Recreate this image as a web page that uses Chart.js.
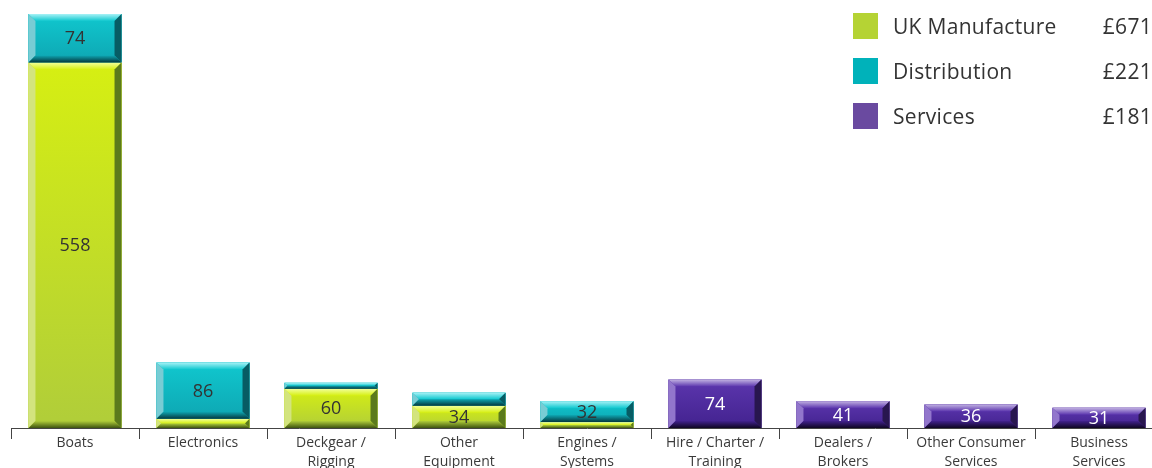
<!DOCTYPE html>
<html>
<head>
<meta charset="utf-8">
<script src="https://cdn.jsdelivr.net/npm/chart.js@4.4.0/dist/chart.umd.min.js"></script>
<style>
  html, body { margin: 0; padding: 0; background: #fff; overflow: hidden; }
  #wrap { position: relative; width: 1152px; height: 468px; overflow: hidden; }
  #chart { position: absolute; left: 0; top: 0; }
  #legend { position: absolute; left: 853px; top: 13px; width: 299px;
            font-family: 'Open Sans', sans-serif; font-size: 21px; letter-spacing: 0.3px; color: #333; }
  #legend .row { position: relative; height: 45px; }
  #legend .sw { position: absolute; left: 0; top: 0; width: 25px; height: 26px; }
  #legend .name { position: absolute; left: 40px; top: 0; line-height: 27px; }
  #legend .val { position: absolute; right: 0; top: 0; line-height: 27px; }
</style>
</head>
<body>
<div id="wrap">
  <canvas id="chart" width="1164" height="468"></canvas>
  <div id="legend"></div>
</div>
<script>
// ===== DATA =====
const categories = [
  ['Boats'], ['Electronics'], ['Deckgear /', 'Rigging'], ['Other', 'Equipment'],
  ['Engines /', 'Systems'], ['Hire / Charter /', 'Training'], ['Dealers /', 'Brokers'],
  ['Other Consumer', 'Services'], ['Business', 'Services']
];
const ukManufacture = [558, 14, 60, 34, 9, null, null, null, null];
const distribution  = [74, 86, 9, 20, 32, null, null, null, null];
const services      = [null, null, null, null, null, 74, 41, 36, 31];

const seriesNames  = ['UK Manufacture', 'Distribution', 'Services'];
const seriesTotals = ['£671', '£221', '£181'];

// ===== COLOURS =====
const legendColors = ['#b5d334', '#00b2ba', '#6a4aa0'];
const bevelColors = [
  { faceTop: '#d6ef12', faceBot: '#b0cd3a', top: '#f2ff9c', left: '#d3e47e', right: '#5b7a1c', bottom: '#3e5410' },
  { faceTop: '#10c8cf', faceBot: '#0ea6b2', top: '#a8f2f6', left: '#78ccd4', right: '#075c64', bottom: '#04363c' },
  { faceTop: '#5c36ae', faceBot: '#42228e', top: '#c2b2e2', left: '#9276cc', right: '#28164f', bottom: '#0e0622' }
];
const labelColors = ['#333', '#333', '#fff'];

// ===== LEGEND =====
const legendEl = document.getElementById('legend');
seriesNames.forEach((name, i) => {
  const row = document.createElement('div');
  row.className = 'row';
  row.innerHTML = `<div class="sw" style="background:${legendColors[i]}"></div>
    <div class="name">${name}</div><div class="val">${seriesTotals[i]}</div>`;
  legendEl.appendChild(row);
});

// ===== BEVELLED BARS =====
function poly(ctx, pts, fill) {
  ctx.beginPath();
  ctx.moveTo(pts[0][0], pts[0][1]);
  for (let k = 1; k < pts.length; k++) ctx.lineTo(pts[k][0], pts[k][1]);
  ctx.closePath();
  ctx.fillStyle = fill;
  ctx.fill();
}

const bevelPlugin = {
  id: 'bevel',
  afterDatasetsDraw(chart) {
    const ctx = chart.ctx;
    ctx.save();
    chart.data.datasets.forEach((ds, di) => {
      const meta = chart.getDatasetMeta(di);
      const c = bevelColors[di];
      meta.data.forEach((bar, i) => {
        const v = ds.data[i];
        if (v == null) return;
        const p = bar.getProps(['x', 'y', 'base', 'width'], true);
        const l = p.x - p.width / 2, r = p.x + p.width / 2;
        const t = Math.min(p.y, p.base), b = Math.max(p.y, p.base);
        const h = b - t;
        if (h <= 0) return;
        const s = Math.min(7, h / 2);

        // face
        const g = ctx.createLinearGradient(0, t, 0, b);
        g.addColorStop(0, c.faceTop);
        g.addColorStop(1, c.faceBot);
        ctx.fillStyle = g;
        ctx.fillRect(l, t, r - l, h);

        // top edge
        const gt = ctx.createLinearGradient(0, t, 0, t + s);
        gt.addColorStop(0, c.top);
        gt.addColorStop(1, c.faceTop);
        poly(ctx, [[l, t], [r, t], [r - s, t + s], [l + s, t + s]], gt);

        // left edge
        poly(ctx, [[l, t], [l + s, t + s], [l + s, b - s], [l, b]], c.left);

        // right edge
        poly(ctx, [[r, t], [r, b], [r - s, b - s], [r - s, t + s]], c.right);

        // bottom edge
        const gb = ctx.createLinearGradient(0, b - s, 0, b);
        gb.addColorStop(0, c.faceBot);
        gb.addColorStop(1, c.bottom);
        poly(ctx, [[l, b], [l + s, b - s], [r - s, b - s], [r, b]], gb);

        // value label
        if (v >= 30) {
          ctx.font = '18px "Open Sans", sans-serif';
          ctx.fillStyle = labelColors[di];
          ctx.textAlign = 'center';
          ctx.textBaseline = 'middle';
          ctx.fillText(String(v), p.x, (t + b) / 2 + 1);
        }
      });
    });
    ctx.restore();
  }
};

// ===== CHART =====
new Chart(document.getElementById('chart'), {
  type: 'bar',
  data: {
    labels: categories,
    datasets: [
      { label: seriesNames[0], data: ukManufacture, backgroundColor: legendColors[0] },
      { label: seriesNames[1], data: distribution, backgroundColor: legendColors[1] },
      { label: seriesNames[2], data: services, backgroundColor: legendColors[2] }
    ]
  },
  options: {
    responsive: false,
    animation: false,
    categoryPercentage: 1,
    barPercentage: 0.727,
    layout: { padding: { left: 11, right: 1, top: 14, bottom: 0 } },
    plugins: { legend: { display: false }, tooltip: { enabled: false } },
    scales: {
      x: {
        stacked: true,
        afterFit: (scale) => { scale.height = 40; },
        grid: { offset: true, drawOnChartArea: false, tickLength: 11, color: '#444', lineWidth: 1 },
        border: { display: true, color: '#444', width: 1 },
        ticks: {
          color: '#3a3a3a', padding: -6, maxRotation: 0, autoSkip: false,
          font: { family: '"Open Sans", sans-serif', size: 14, lineHeight: 1.4 }
        }
      },
      y: { stacked: true, display: false, min: 0, max: 632 }
    }
  },
  plugins: [bevelPlugin]
});
</script>
</body>
</html>
